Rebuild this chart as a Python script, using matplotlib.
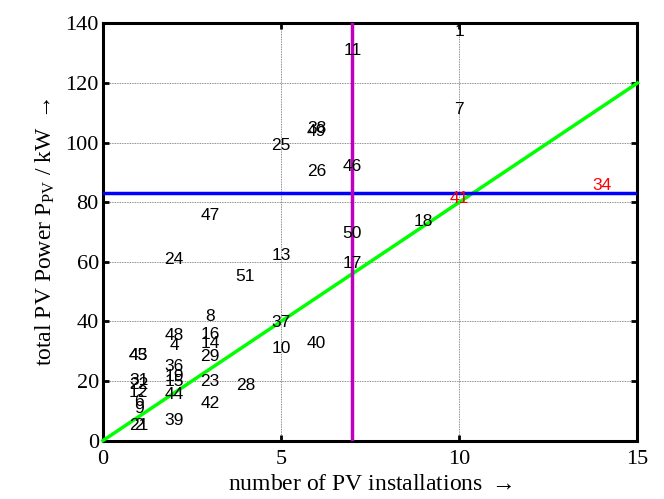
import numpy as np
import matplotlib
matplotlib.use("Agg")
import matplotlib.pyplot as plt

plt.rcParams['font.family'] = ['Liberation Serif', 'DejaVu Serif']
plt.rcParams['mathtext.fontset'] = 'custom'
plt.rcParams['mathtext.rm'] = 'Liberation Serif'
plt.rcParams['mathtext.it'] = 'Liberation Serif:italic'

# feeder numbers, number of PV installations, total PV power (kW)
labels = ['1', '2', '4', '6', '7', '8', '9', '10', '11', '12', '13', '14', '15',
          '16', '17', '18', '19', '21', '22', '23', '24', '25', '26', '28', '29',
          '31', '34', '36', '37', '38', '39', '40', '41', '42', '43', '44', '45',
          '46', '47', '48', '49', '50', '51']
n_pv = [10, 1, 2, 1, 10, 3, 1, 5, 7, 1, 5, 3, 2,
        3, 7, 9, 2, 1, 1, 3, 2, 5, 6, 4, 3,
        1, 14, 2, 5, 6, 2, 6, 10, 3, 1, 2, 1,
        7, 3, 2, 6, 7, 4]
p_pv = [137.2, 5.2, 31.8, 13.0, 111.2, 41.5, 10.8, 30.9, 131.0, 16.3, 62.0, 32.6, 19.7,
        35.7, 59.5, 73.7, 21.6, 5.2, 19.0, 19.7, 60.9, 98.9, 90.2, 18.6, 28.1,
        20.3, 85.7, 24.8, 39.5, 104.6, 6.8, 32.5, 81.3, 12.5, 28.7, 15.5, 28.7,
        91.9, 75.4, 35.2, 103.9, 69.5, 55.0]
red_labels = ['34', '41']

p_limit = 83.2      # horizontal limit
n_limit = 7         # vertical limit
slope = 8           # kW per installation
x_max = 15
y_max = 140

fig = plt.figure(figsize=(6.64, 4.99), dpi=100)
ax = fig.add_axes([0.155, 0.117, 0.805, 0.836])

ax.set_xlim(0, x_max)
ax.set_ylim(0, y_max)
ax.set_xticks([0, 5, 10, 15])
ax.set_yticks(np.arange(0, 141, 20))
ax.grid(True, color='0.4', linestyle=(0, (1, 1)), linewidth=0.6)
ax.set_axisbelow(True)

for s in ax.spines.values():
    s.set_linewidth(2.2)
ax.tick_params(direction='in', length=4, width=2, labelsize=16,
               top=True, right=True)
ax.tick_params(axis='x', pad=7)
ax.tick_params(axis='y', pad=3)

xs = np.array([0, x_max])
ax.plot(xs, slope * xs, color=(0, 1, 0), lw=2.5, clip_on=False, zorder=3)
ax.axhline(p_limit, color=(0, 0, 1), lw=2.5, zorder=3)
ax.axvline(n_limit, color=(0.75, 0, 0.75), lw=2.5, zorder=3)

for lab, x, y in zip(labels, n_pv, p_pv):
    c = 'red' if lab in red_labels else 'black'
    ax.text(x, y, lab, ha='center', va='center', fontsize=12.5, color=c,
            family=['Liberation Sans', 'DejaVu Sans'], zorder=4)

ax.set_xlabel('number of PV installations ${\\rightarrow}$', fontsize=17, labelpad=3)
ax.set_ylabel('total PV Power P$_{\\mathrm{PV}}$ / kW ${\\rightarrow}$', fontsize=17, labelpad=6)

fig.savefig('out.png', dpi=100)
